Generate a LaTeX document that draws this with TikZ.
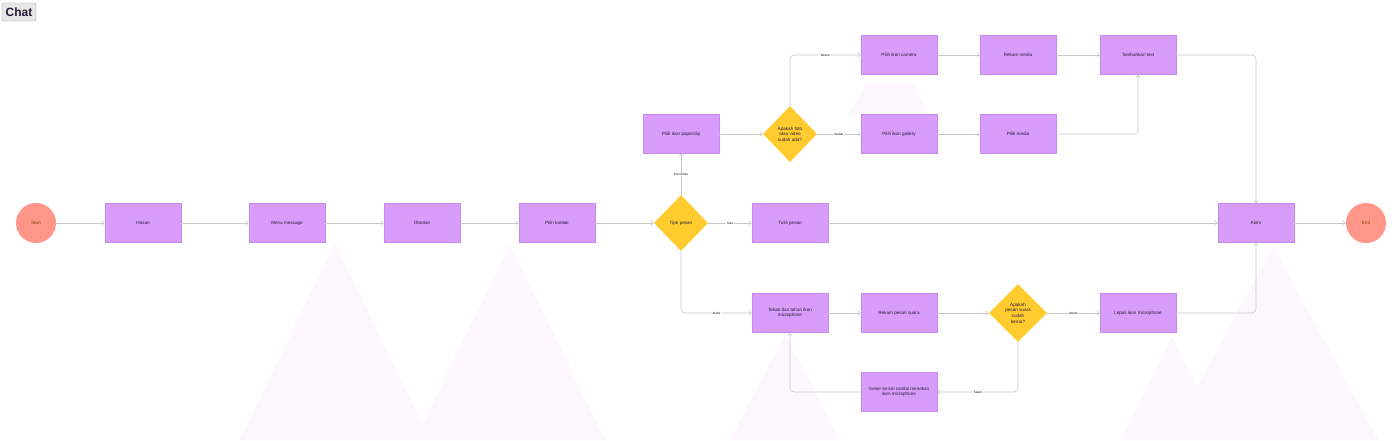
\documentclass[tikz,border=0pt]{standalone}
\usepackage{fontspec}
\setmainfont{Liberation Sans}
\usetikzlibrary{shapes.geometric,arrows.meta}
\definecolor{boxfill}{HTML}{D89CFB}
\definecolor{boxline}{HTML}{C68AEE}
\definecolor{gold}{HTML}{FFCB2E}
\definecolor{salmon}{HTML}{FF9689}
\definecolor{linec}{HTML}{C8C8C8}
\definecolor{txt}{HTML}{2A1838}
\definecolor{termtxt}{HTML}{7A4A00}
\definecolor{bgtri}{HTML}{FEF6FE}
\definecolor{btnfill}{HTML}{E6E6E6}
\definecolor{btnline}{HTML}{A8A8A8}
\begin{document}
\begin{tikzpicture}[x=1pt,y=-1pt,
  box/.style={draw=boxline, fill=boxfill, minimum width=76pt, minimum height=39pt, inner sep=1pt, align=center, font=\fontsize{4.6}{5.6}\selectfont, text=txt, line width=0.4pt},
  dia/.style={diamond, fill=gold, draw=none, minimum width=54pt, minimum height=56pt, inner sep=0pt, align=center, font=\fontsize{4.6}{5.6}\selectfont, text=txt},
  term/.style={circle, fill=salmon, draw=none, minimum size=40pt, inner sep=0pt, font=\fontsize{4.6}{5.6}\selectfont, text=termtxt},
  conn/.style={draw=linec, line width=0.6pt, -{Straight Barb[length=2.5pt,width=4.5pt]}, rounded corners=4pt},
  lbl/.style={fill=white, inner sep=0.8pt, font=\fontsize{3}{3.5}\selectfont, text=black}]
\fill[white] (0,0) rectangle (1400,440);
\useasboundingbox (0,0) rectangle (1400,440);
% background triangles
\fill[bgtri] (335,243) -- (240,440) -- (430,440) -- cycle;
\fill[bgtri] (510,245) -- (415,440) -- (605,440) -- cycle;
\fill[bgtri] (785,335) -- (730,440) -- (840,440) -- cycle;
\fill[bgtri] (867,83) -- (913,83) -- (928,114) -- (849,114) -- cycle;
\fill[bgtri] (1172,337) -- (1120,440) -- (1224,440) -- cycle;
\fill[bgtri] (1273,247) -- (1168,440) -- (1378,440) -- cycle;
% chat button
\node[draw=btnline, fill=btnfill, rounded corners=2pt, minimum width=34pt, minimum height=18pt, inner sep=0pt, font=\fontsize{12}{14}\selectfont\bfseries, text=txt] (chat) at (19,12) {Chat};
% nodes
\node[term] (start) at (36,223) {Start};
\node[box] (hasan) at (143,223) {Hasan};
\node[box] (menu) at (287,223) {Menu message};
\node[box] (obrolan) at (422,223) {Obrolan};
\node[box] (kontak) at (557,223) {Pilih kontak};
\node[dia] (tipe) at (681,223) {Tipe pesan};
\node[box] (tulis) at (790,223) {Tulis pesan};
\node[box] (kirim) at (1256,223) {Kirim};
\node[term] (end) at (1366,223) {End};
\node[box] (clip) at (681,134) {Pilih ikon paperclip};
\node[dia] (dfoto) at (790,134) {Apakah foto\\atau video\\sudah ada?};
\node[box] (camera) at (899,55) {Pilih ikon camera};
\node[box] (rmedia) at (1018,55) {Rekam media};
\node[box] (tambah) at (1138,55) {Tambahkan text};
\node[box] (gallery) at (899,134) {Pilih ikon gallery};
\node[box] (pmedia) at (1018,134) {Pilih media};
\node[box] (tekan) at (790,313) {Tekan dan tahan ikon\\microphone};
\node[box] (rsuara) at (899,313) {Rekam pesan suara};
\node[dia, minimum width=58pt, minimum height=58pt] (dsuara) at (1018,313) {Apakah\\pesan suara\\sudah\\benar?};
\node[box] (lepas) at (1138,313) {Lepas ikon microphone};
\node[box] (geser) at (899,392) {Geser ke kiri sambil menekan\\ikon microphone};
% connectors
\draw[conn] (start) -- (hasan);
\draw[conn] (hasan) -- (menu);
\draw[conn] (menu) -- (obrolan);
\draw[conn] (obrolan) -- (kontak);
\draw[conn] (kontak) -- (tipe);
\draw[conn] (tipe) -- node[lbl] {Teks} (tulis);
\draw[conn] (tipe) -- node[lbl] {Foto/Video} (clip);
\draw[conn] (tipe.south) |- node[lbl, pos=0.75] {Audio} (tekan.west);
\draw[conn] (clip) -- (dfoto);
\draw[conn] (dfoto.north) |- node[lbl, pos=0.75] {Belum} (camera.west);
\draw[conn] (dfoto) -- node[lbl] {Sudah} (gallery);
\draw[conn] (camera) -- (rmedia);
\draw[conn] (rmedia) -- (tambah);
\draw[conn] (gallery) -- (pmedia);
\draw[conn] (pmedia.east) -| (tambah.south);
\draw[conn] (tambah.east) -| (kirim.north);
\draw[conn] (tulis) -- (kirim);
\draw[conn] (kirim) -- (end);
\draw[conn] (tekan) -- (rsuara);
\draw[conn] (rsuara) -- (dsuara);
\draw[conn] (dsuara) -- node[lbl] {Benar} (lepas);
\draw[conn] (lepas.east) -| (kirim.south);
\draw[conn] (dsuara.south) |- node[lbl, pos=0.75] {Salah} (geser.east);
\draw[conn] (geser.west) -| (tekan.south);
\end{tikzpicture}
\end{document}
